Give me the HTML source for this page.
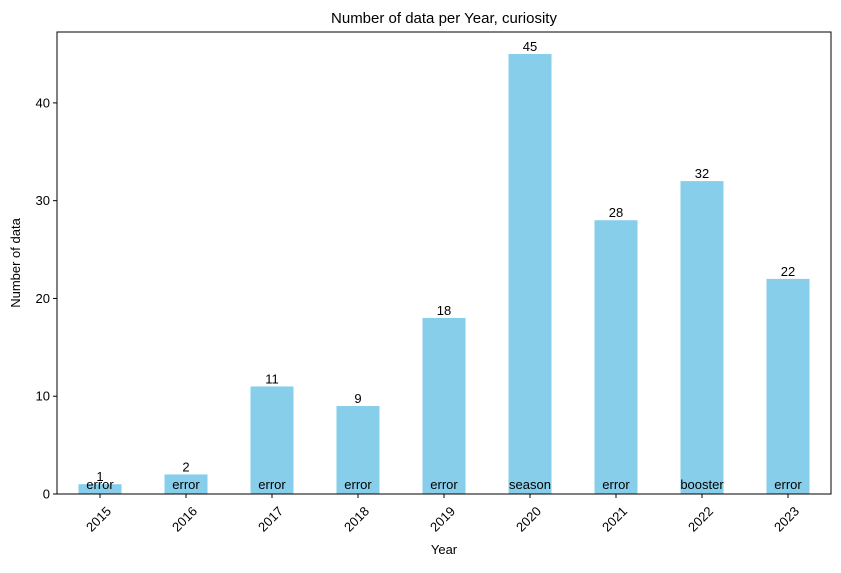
<!DOCTYPE html>
<html><head><meta charset="utf-8"><style>
body{margin:0;background:#fff;font-family:"Liberation Sans","DejaVu Sans",sans-serif;}
</style></head><body>
<svg id="chart" width="841" height="568" xmlns="http://www.w3.org/2000/svg"></svg>
<script>
const categories=["2015","2016","2017","2018","2019","2020","2021","2022","2023"];
const counts=[1,2,11,9,18,45,28,32,22];
const barLabels=["error","error","error","error","error","season","error","booster","error"];
const yTicks=[0,10,20,30,40];
const L=57,R=831,T=32,B=494,yMax=47.25;
const svg=document.getElementById('chart');
const NS="http://www.w3.org/2000/svg";
const step=(R-L)/categories.length;
const x=i=>L+step*(i+0.5);
const y=v=>B-(v/yMax)*(B-T);
function mk(tag,attrs,txt){const e=document.createElementNS(NS,tag);for(const k in attrs)e.setAttribute(k,attrs[k]);if(txt!==undefined)e.textContent=txt;svg.appendChild(e);return e;}
const ff='"Liberation Sans","DejaVu Sans",sans-serif';
let t=mk('text',{x:(L+R)/2,y:23,'text-anchor':'middle','font-size':15,'font-family':ff},'Number of data per Year, curiosity');


categories.forEach((c,i)=>{
 const bw=step*0.5;
 let r=mk('rect',{x:x(i)-bw/2,y:y(counts[i]),width:bw,height:B-y(counts[i]),fill:'#87ceeb'});
 
 
 let v=mk('text',{x:x(i),y:y(counts[i])-3,'text-anchor':'middle','font-size':13,'font-family':ff},counts[i]);
 
 
 let b=mk('text',{x:x(i),y:B-5,'text-anchor':'middle','font-size':13,'font-family':ff},barLabels[i]);
 
 
 mk('line',{x1:x(i),x2:x(i),y1:B,y2:B+4,stroke:'#000'});
 let tl=mk('text',{x:0,y:0,'text-anchor':'end','font-size':13,'font-family':ff,transform:`translate(${x(i)+12},${B+18}) rotate(-45)`},c);
 
 
});
yTicks.forEach(v=>{
 mk('line',{x1:L-4,x2:L,y1:y(v),y2:y(v),stroke:'#000'});
 let tl=mk('text',{x:L-7,y:y(v)+4.5,'text-anchor':'end','font-size':13,'font-family':ff},v);
 
 
});
let fr=mk('rect',{x:L,y:T,width:R-L,height:B-T,fill:'none',stroke:'#000','stroke-width':1});


let xt=mk('text',{x:(L+R)/2,y:554,'text-anchor':'middle','font-size':13,'font-family':ff},'Year');


let yt=mk('text',{x:0,y:0,'text-anchor':'middle','font-size':13,'font-family':ff,transform:`translate(20,${(T+B)/2}) rotate(-90)`},'Number of data');


</script>
</body></html>
